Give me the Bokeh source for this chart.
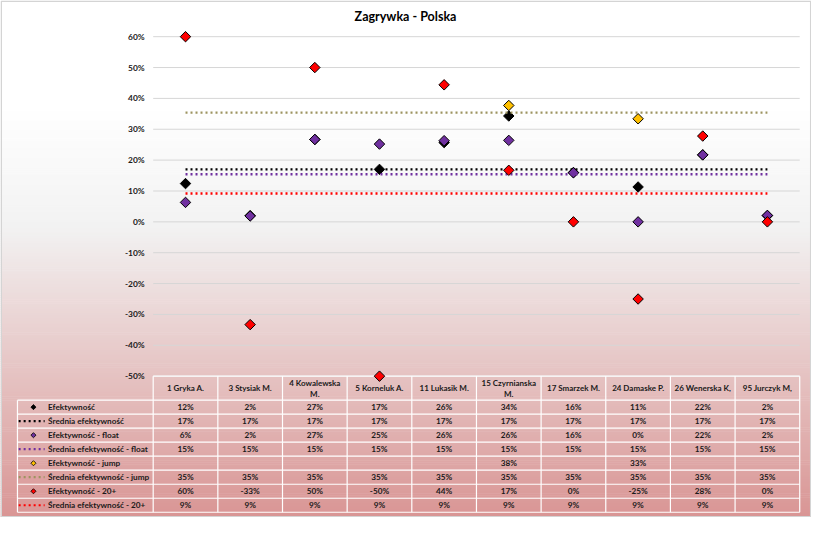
import math
import numpy as np
from bokeh.plotting import figure
from bokeh.models import Range1d
from bokeh.embed import file_html
from bokeh.resources import INLINE
from bokeh.core.properties import value

# ---------------- data ----------------
TITLE = "Zagrywka - Polska"
players = ["1 Gryka A.", "3 Stysiak M.", "4 Kowalewska\nM.", "5 Korneluk A.", "11 Lukasik M.",
           "15 Czyrnianska\nM.", "17 Smarzek M.", "24 Damaske P.", "26 Wenerska K,", "95 Jurczyk M,"]
eff = [0.124, 0.02, 0.267, 0.17, 0.257, 0.343, 0.16, 0.113, 0.217, 0.02]
avg_eff = [0.17, 0.17, 0.17, 0.17, 0.17, 0.17, 0.17, 0.17, 0.17, 0.17]
eff_float = [0.063, 0.019, 0.267, 0.252, 0.263, 0.264, 0.159, 0.0, 0.217, 0.021]
avg_float = [0.154, 0.154, 0.154, 0.154, 0.154, 0.154, 0.154, 0.154, 0.154, 0.154]
eff_jump = [None, None, None, None, None, 0.377, None, 0.334, None, None]
avg_jump = [0.354, 0.354, 0.354, 0.354, 0.354, 0.354, 0.354, 0.354, 0.354, 0.354]
eff_20 = [0.6, -0.333, 0.5, -0.5, 0.444, 0.167, 0.0, -0.25, 0.278, 0.0]
avg_20 = [0.092, 0.092, 0.092, 0.092, 0.092, 0.092, 0.092, 0.092, 0.092, 0.092]
tick_vals = [0.6, 0.5, 0.4, 0.3, 0.2, 0.1, 0.0, -0.1, -0.2, -0.3, -0.4, -0.5]
tick_labels = ["60%", "50%", "40%", "30%", "20%", "10%", "0%", "-10%", "-20%", "-30%", "-40%", "-50%"]

series = [
    ("Efektywność", eff, "marker", "#000000"),
    ("Średnia efektywność", avg_eff, "line", "#000000"),
    ("Efektywność - float", eff_float, "marker", "#7030a0"),
    ("Średnia efektywność - float", avg_float, "line", "#7030a0"),
    ("Efektywność - jump", eff_jump, "marker", "#ffc000"),
    ("Średnia efektywność - jump", avg_jump, "line", "#9d9460"),
    ("Efektywność - 20+", eff_20, "marker", "#ff0000"),
    ("Średnia efektywność - 20+", avg_20, "line", "#ff0000"),
]

# ---------------- layout (reference pixel units) ----------------
W, H = 811, 517
RW, RH = 827, 533
COL0, COL1 = 155.7, 815.0
COLW = (COL1 - COL0) / 10
C0 = COL0 + COLW / 2
Y0PX, PXU = 228.2, 318.18
TBL_TOP, HDR_BOT, ROW_H = 387.3, 412.0, 14.45
FONT = value("Lato")
TXT = "#1a1a1a"
TFS = "8.2px"

p = figure(width=W, height=H, min_border=0, toolbar_location=None, output_backend="svg",
           x_range=Range1d((0 - C0) / COLW, (RW - C0) / COLW),
           y_range=Range1d(-(RH - Y0PX) / PXU, Y0PX / PXU),
           x_axis_type=None, y_axis_type=None, outline_line_color=None)
p.extra_x_ranges = {"px": Range1d(0, RW)}
p.extra_y_ranges = {"py": Range1d(RH, 0)}
p.background_fill_color = "white"
p.border_fill_color = "white"

# background gradient
stops = [(0, (255, 255, 255)), (110, (255, 255, 255)), (233, (242, 242, 242)), (533, (217, 149, 148))]
def grad(y):
    for (a, ca), (b, cb) in zip(stops[:-1], stops[1:]):
        if a <= y <= b:
            t = (y - a) / (b - a)
            return "#%02x%02x%02x" % tuple(int(round(ca[k] + (cb[k] - ca[k]) * t)) for k in range(3))
    return "#%02x%02x%02x" % stops[-1][1]
band_top = list(np.arange(0, RH, 2.0))
band_bot = [t + 2.6 for t in band_top]
band_col = [grad(t + 1) for t in band_top]
p.quad(left=0, right=RW, top=band_top, bottom=band_bot, fill_color=band_col, line_color=None,
       x_range_name="px", y_range_name="py")
p.quad(left=[0.8], right=[826.2], top=[0.8], bottom=[532.2], fill_alpha=0, line_color="#d4d4d4",
       line_width=1.5, x_range_name="px", y_range_name="py")

# title
p.text(x=[413], y=[17], text=[TITLE], x_range_name="px", y_range_name="py", text_font=FONT,
       text_font_style="bold", text_font_size="12.5px", text_align="center", text_baseline="middle",
       text_color="black")

# gridlines + y tick labels
p.segment(x0=COL0, x1=COL1, y0=tick_vals, y1=tick_vals, line_color="#d6d6d6", line_width=1,
          x_range_name="px")
p.text(x=[147] * len(tick_vals), y=tick_vals, text=tick_labels, x_range_name="px", text_font=FONT,
       text_font_style="bold", text_font_size="8.4px", text_align="right", text_baseline="middle",
       text_color=TXT)

# ---------------- data table ----------------
idx = list(range(len(players)))
p.text(x=idx, y=[(TBL_TOP + HDR_BOT) / 2] * len(idx), text=players, y_range_name="py",
       text_font=FONT, text_font_style="bold", text_font_size="8px", text_align="center",
       text_baseline="middle", text_color=TXT, text_line_height=1.1)

def fmt(v):
    return "" if v is None else "%d%%" % int(round(v * 100))

row_centers = [HDR_BOT + ROW_H * (r + 0.5) for r in range(len(series))]
for r, (label, vals, kind, color) in enumerate(series):
    yc = row_centers[r]
    p.text(x=idx, y=[yc] * len(idx), text=[fmt(v) for v in vals], y_range_name="py",
           text_font=FONT, text_font_style="bold", text_font_size=TFS, text_align="center",
           text_baseline="middle", text_color=TXT)
    p.text(x=[48.5], y=[yc], text=[label], x_range_name="px", y_range_name="py",
           text_font=FONT, text_font_style="bold", text_font_size=TFS, text_align="left",
           text_baseline="middle", text_color=TXT)
    if kind == "marker":
        p.scatter(x=[33.6], y=[yc], marker="square", angle=math.pi / 4, size=3.6,
                  fill_color=color, line_color="black", line_width=0.8,
                  x_range_name="px", y_range_name="py")
    else:
        p.line(x=[18.5, 45], y=[yc, yc], line_color=color, line_width=2.2, line_dash="2 3",
               x_range_name="px", y_range_name="py")

# table borders (white)
bottom = HDR_BOT + ROW_H * len(series)
hy = [TBL_TOP] + [HDR_BOT + ROW_H * r for r in range(len(series) + 1)]
hx0 = [COL0] + [17.3] * (len(series) + 1)
p.segment(x0=hx0, x1=[COL1] * len(hy), y0=hy, y1=hy, line_color="white", line_width=1.2,
          x_range_name="px", y_range_name="py")
vx = [17.3] + [COL0 + COLW * k for k in range(11)]
vy0 = [HDR_BOT] + [TBL_TOP] * 11
p.segment(x0=vx, x1=vx, y0=vy0, y1=[bottom] * len(vx), line_color="white", line_width=1.2,
          x_range_name="px", y_range_name="py")

# ---------------- series in chart ----------------
for label, vals, kind, color in series:
    ys = [np.nan if v is None else v for v in vals]
    if kind == "marker":
        p.scatter(x=idx, y=ys, marker="square", angle=math.pi / 4, size=7.4,
                  fill_color=color, line_color="black", line_width=1)
    else:
        p.line(x=idx, y=ys, line_color=color, line_width=2.4, line_dash="2 3")

open("out.html", "w").write(file_html(p, INLINE))
